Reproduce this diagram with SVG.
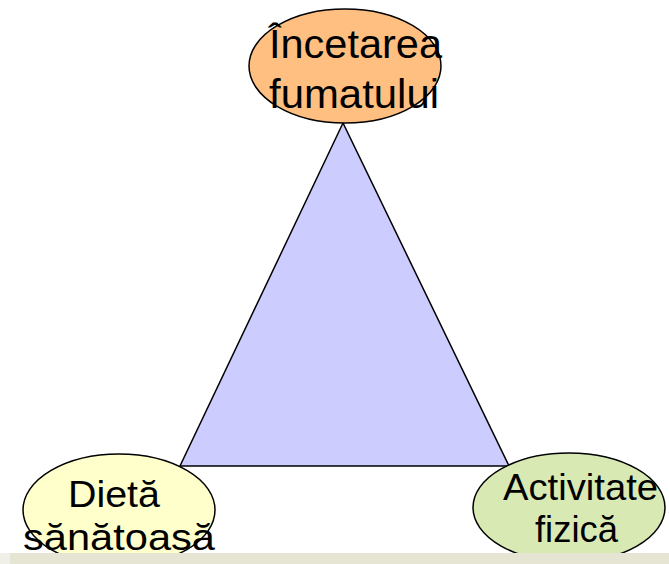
<svg xmlns="http://www.w3.org/2000/svg" width="669" height="564" viewBox="0 0 669 564">
<style>
.n{stroke:#000;stroke-width:1.5}
.t{font-family:"Liberation Sans",Arial,sans-serif;fill:#000;text-anchor:start}
</style>
<rect width="669" height="564" fill="#fff"/>
<g id="triangle">
<polygon points="343,123 180,466 509,466" fill="#ccccff" stroke="#000" stroke-width="1.5"/>
</g>
<g id="node-fumat">
<ellipse class="n" cx="345" cy="66" rx="96" ry="57" fill="#ffbf80"/>
<text class="t" x="269" y="58" font-size="40" textLength="173" lengthAdjust="spacingAndGlyphs">Încetarea</text>
<text class="t" x="269" y="108" font-size="40" textLength="170" lengthAdjust="spacingAndGlyphs">fumatului</text>
</g>
<g id="node-dieta">
<ellipse class="n" cx="119" cy="510" rx="96" ry="56" fill="#ffffcc"/>
<text class="t" x="68" y="507" font-size="37" textLength="92" lengthAdjust="spacingAndGlyphs">Dietă</text>
<text class="t" x="23" y="550" font-size="37" textLength="192" lengthAdjust="spacingAndGlyphs">sănătoasă</text>
</g>
<g id="node-activitate">
<ellipse class="n" cx="569" cy="507.5" rx="96" ry="54.5" fill="#d8e9b4"/>
<text class="t" x="503" y="500" font-size="36" textLength="155" lengthAdjust="spacingAndGlyphs">Activitate</text>
<text class="t" x="535" y="542" font-size="36" textLength="83" lengthAdjust="spacingAndGlyphs">fizică</text>
</g>
<g id="band">
<rect x="0" y="553" width="669" height="11" fill="#e6e4d3"/>
<rect x="0" y="553" width="10" height="11" fill="#f1f0e8"/>
</g>
</svg>
